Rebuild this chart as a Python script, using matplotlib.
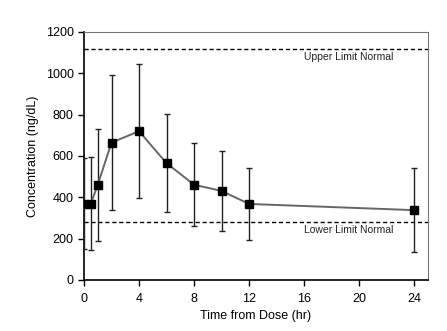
import matplotlib.pyplot as plt

plt.rcParams['font.family'] = ['Liberation Sans', 'DejaVu Sans']

# Time points (hr) and mean concentration with SD
TIME_HR = [0, 0.5, 1, 2, 4, 6, 8, 10, 12, 24]
CONC_MEAN = [370, 370, 461, 665, 720, 565, 461, 431, 368, 338]
CONC_SD = [222, 225, 272, 326, 323, 238, 200, 193, 173, 203]

UPPER_LIMIT = 1120
LOWER_LIMIT = 280

fig = plt.figure(figsize=(4.47, 3.31), dpi=100)
ax = fig.add_axes([84 / 447, 1 - 280 / 331, 344 / 447, 248 / 331])

ax.axhline(UPPER_LIMIT, color='black', linestyle=(0, (3, 2)), linewidth=1.0)
ax.axhline(LOWER_LIMIT, color='black', linestyle=(0, (3, 2)), linewidth=1.0)

ax.errorbar(TIME_HR, CONC_MEAN, yerr=CONC_SD, color='#666666', linewidth=1.4,
            marker='s', markersize=5.5, markerfacecolor='black', markeredgecolor='black',
            ecolor='#222222', elinewidth=1.0, capsize=2.5, capthick=1.0, zorder=3)

ax.text(19.2, 1079, 'Upper Limit Normal', fontsize=7.5, ha='center', va='center', color='#222222')
ax.text(19.2, 242, 'Lower Limit Normal', fontsize=7.5, ha='center', va='center', color='#222222')

ax.set_xlim(0, 25)
ax.set_ylim(0, 1200)
ax.set_xticks([0, 4, 8, 12, 16, 20, 24])
ax.set_yticks(range(0, 1201, 200))
ax.tick_params(direction='out', length=4, width=1, labelsize=9, colors='black')
ax.tick_params(axis='x', pad=5)

for side in ['left', 'bottom']:
    ax.spines[side].set_linewidth(1.2)
for side in ['top', 'right']:
    ax.spines[side].set_color('#777777')
    ax.spines[side].set_linewidth(0.8)

ax.set_xlabel('Time from Dose (hr)', fontsize=9, labelpad=4)
ax.set_ylabel('Concentration (ng/dL)', fontsize=9, labelpad=5)

fig.savefig('out.png', dpi=100)
